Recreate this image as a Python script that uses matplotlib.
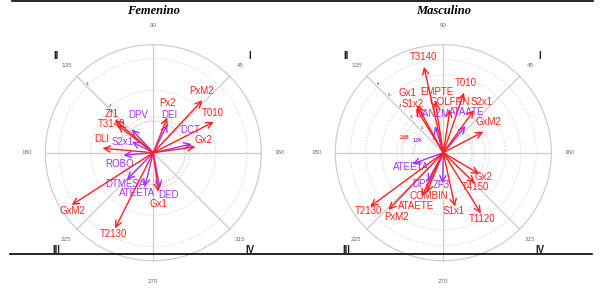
import numpy as np
import matplotlib
matplotlib.use("Agg")
import matplotlib.pyplot as plt
from matplotlib.lines import Line2D

# ---------------- data ----------------
titles = ["Femenino", "Masculino"]

fem_red_labels = ["PxM2", "T010", "Px2", "Gx2", "Zf1", "T3140", "DLI", "GxM2", "T2130", "Gx1"]
fem_red_angle = [46.9, 27.0, 68.4, 8.0, 139.5, 142.5, 175.0, 212.6, 243.2, 277.3]
fem_red_len = [2.30, 2.17, 1.21, 1.36, 1.61, 1.45, 1.63, 3.10, 2.71, 1.26]

fem_pur_labels = ["DEI", "DPV", "DCT", "S2x1", "ROBO", "DTMESA", "ATEETA", "DED"]
fem_pur_angle = [63.5, 132.7, 12.8, 153.0, 185.0, 225.7, 256.0, 280.6]
fem_pur_len = [1.02, 1.02, 1.26, 0.77, 0.96, 1.21, 1.12, 1.16]

mas_red_labels = ["T3140", "T010", "Gx1", "S1x2", "EMPTE", "GOLFRN", "S2x1", "GxM2",
                  "Gx2", "T4150", "T1120", "S1x1", "COMBIN", "ATAETE", "PxM2", "T2130"]
mas_red_angle = [102.7, 71.0, 119.0, 121.6, 99.0, 81.2, 54.3, 27.7,
                 329.4, 315.9, 301.8, 282.2, 247.4, 243.8, 226.2, 216.4]
mas_red_len = [5.68, 4.10, 3.52, 3.35, 3.37, 2.83, 3.39, 2.92,
               2.70, 2.84, 4.61, 3.56, 2.80, 3.17, 5.12, 5.87]

mas_pur_labels = ["DANZM", "ATAATE", "ATEETA", "DPV", "ZF3"]
mas_pur_angle = [107.4, 50.1, 200.0, 241.1, 268.8]
mas_pur_len = [1.80, 2.25, 2.13, 2.14, 1.98]

fem_mean = [1.15, 1.02]   # red, purple
mas_mean = [2.68, 1.86]

angle_ticks = [0, 45, 90, 135, 180, 225, 270, 315]
angle_tick_labels = ["360", "45", "90", "135", "180", "225", "270", "315"]
quadrants = ["I", "II", "III", "IV"]

# label nudges in pixels (dx right, dy down)
fem_nudge = {"PxM2": (-1, -9), "T010": (-1, -9), "Px2": (0, -14), "Gx2": (8, -7),
             "Zf1": (-3, -6), "T3140": (-6, -1), "DLI": (-1, -9), "GxM2": (1, 6),
             "T2130": (-2, 6), "Gx1": (0, 12),
             "DEI": (2, -9), "DPV": (7, -14), "DCT": (-2, -14), "S2x1": (-9, 0),
             "ROBO": (-4, 9), "DTMESA": (-1, 4), "ATEETA": (-8, 6), "DED": (9, 7)}
mas_nudge = {"T3140": (0, -10), "T010": (2, -10), "Gx1": (-9, -12), "S1x2": (-3, -4),
             "EMPTE": (2, -9), "GOLFRN": (0, -7), "S2x1": (8, -8), "GxM2": (5, -10),
             "Gx2": (4, 3), "T4150": (1, 4), "T1120": (1, 6), "S1x1": (-1, 4),
             "COMBIN": (2, 3), "ATAETE": (-5, 9), "PxM2": (8, 7), "T2130": (-2, 4),
             "DANZM": (-3, -12), "ATAATE": (1, -14), "ATEETA": (-1, 3), "DPV": (-5, 2),
             "ZF3": (-1, 2)}

RED = "#FF1F1F"
PUR = "#A033F5"
FONT = "Liberation Sans"

W, H = 602, 300
fig = plt.figure(figsize=(W / 100, H / 100), dpi=100)

def make_ax(cx, cy, px_per_unit):
    half = 140
    ax = fig.add_axes([(cx - half) / W, (H - cy - half) / H, 2 * half / W, 2 * half / H])
    L = half / px_per_unit
    ax.set_xlim(-L, L)
    ax.set_ylim(-L, L)
    ax.set_aspect("equal")
    ax.axis("off")
    return ax

def draw_panel(ax, ppu, rmax_units, grid_r, grid_lab, means, reds, purs, nudge):
    t = np.linspace(0, 2 * np.pi, 400)
    px = 1.0 / ppu
    for r in grid_r:
        ax.plot(r * np.cos(t), r * np.sin(t), ls=(0, (1.5, 2)), color="#D0D0D0", lw=0.6)
    ax.plot(means[0] * np.cos(t), means[0] * np.sin(t), ls=(0, (1.5, 2)), color="#F4B0B0", lw=0.6)
    ax.plot(means[1] * np.cos(t), means[1] * np.sin(t), ls=(0, (1.5, 2)), color="#C8A8F0", lw=0.6)
    ax.plot(rmax_units * np.cos(t), rmax_units * np.sin(t), color="#CDCDCD", lw=0.9)
    for a in angle_ticks:
        ar = np.deg2rad(a)
        lw = 0.9 if a % 90 == 0 else 0.7
        col = "#CDCDCD" if a % 90 == 0 else "#BDBDBD"
        ax.plot([0, rmax_units * np.cos(ar)], [0, rmax_units * np.sin(ar)], color=col, lw=lw)
    for a, lab in zip(angle_ticks, angle_tick_labels):
        ar = np.deg2rad(a)
        rr = (127 if a % 90 == 0 else 123) * px
        if a == 270:
            rr = 129 * px
        ax.text(rr * np.cos(ar), rr * np.sin(ar), lab, fontsize=4.5, color="#6E6E6E",
                ha="center", va="center", family=FONT)
    for q, a in zip(quadrants, [45, 135, 225, 315]):
        ar = np.deg2rad(a)
        rr = 137 * px
        ax.text(rr * np.cos(ar), rr * np.sin(ar), q, fontsize=7, fontweight="bold",
                color="#202020", ha="center", va="center", family=FONT)
    for r, lab in zip(grid_r, grid_lab):
        if lab == "":
            continue
        ar = np.deg2rad(135)
        ax.text(r * np.cos(ar) + 0.5 * px, r * np.sin(ar) + 2.5 * px, lab, fontsize=3.2,
                color="#333333", ha="center", va="center", family=FONT)
    for (labels, angs, lens, col) in [(purs[0], purs[1], purs[2], PUR),
                                       (reds[0], reds[1], reds[2], RED)]:
        for lab, a, l in zip(labels, angs, lens):
            ar = np.deg2rad(a)
            x, y = l * np.cos(ar), l * np.sin(ar)
            ax.annotate("", xy=(x, y), xytext=(0, 0),
                        arrowprops=dict(arrowstyle="->,head_length=0.45,head_width=0.22",
                                        color=col, lw=1.0, shrinkA=0, shrinkB=0))
        for lab, a, l in zip(labels, angs, lens):
            ar = np.deg2rad(a)
            x, y = l * np.cos(ar), l * np.sin(ar)
            dx, dy = nudge.get(lab, (0, 0))
            ax.annotate(lab, xy=(x, y), xytext=(dx * 0.72, -dy * 0.72),
                        textcoords="offset points", ha="center", va="center",
                        fontsize=7.0, color=col, family=FONT)

axL = make_ax(153.3, 152.7, 31.3)
draw_panel(axL, 31.3, 108 / 31.3, [1, 2, 3], ["", "2", "3"], fem_mean,
           (fem_red_labels, fem_red_angle, fem_red_len),
           (fem_pur_labels, fem_pur_angle, fem_pur_len), fem_nudge)

axR = make_ax(443.3, 152.7, 15.5)
draw_panel(axR, 15.5, 108 / 15.5, [1, 2, 3, 4, 5, 6], ["1", "2", "3", "4", "5", "6"], mas_mean,
           (mas_red_labels, mas_red_angle, mas_red_len),
           (mas_pur_labels, mas_pur_angle, mas_pur_len), mas_nudge)
for m, col, a in zip(mas_mean, [RED, PUR], [158, 155]):
    ar = np.deg2rad(a)
    axR.text(m * np.cos(ar), m * np.sin(ar), f"{m:.2f}", fontsize=3.5, color=col,
             fontweight="bold", ha="center", va="center", family=FONT)

for cx, ttl in zip([153.3, 443.3], titles):
    fig.text(cx / W, 1 - 10.5 / H, ttl, fontsize=9, fontweight="bold", fontstyle="italic",
             family="Liberation Serif", ha="center", va="center")

fig.add_artist(Line2D([12 / W, 593 / W], [1 - 1.2 / H, 1 - 1.2 / H], color="black", lw=1.2))
fig.add_artist(Line2D([10 / W, 592 / W], [1 - 254 / H, 1 - 254 / H], color="black", lw=1.2))

fig.savefig("out.png", dpi=100, facecolor="white")
